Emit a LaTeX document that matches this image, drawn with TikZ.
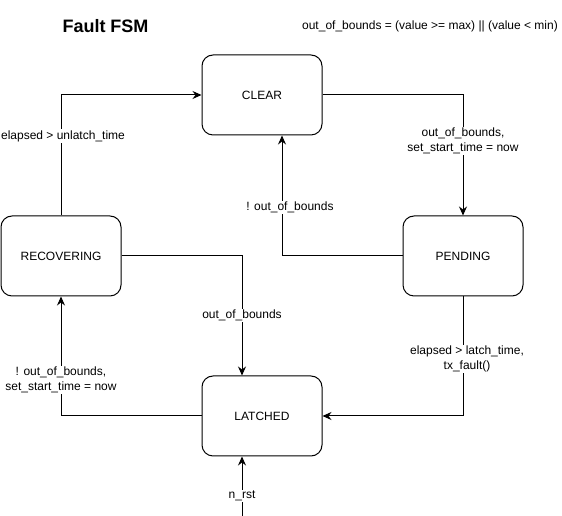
\documentclass[tikz,border=0pt]{standalone}
\usepackage{fontspec}
\setmainfont{Liberation Sans}
\usetikzlibrary{arrows.meta,positioning}

\begin{document}
\begin{tikzpicture}[
  x=1pt,y=1pt,
  font=\fontsize{12}{15}\selectfont,>={Stealth[length=9pt,width=8pt,inset=3pt]},
  state/.style={draw,line width=1pt,rounded corners=11pt,fill=white,align=center,minimum width=120pt,minimum height=80pt},
  ar/.style={->,line width=1pt},
  lbl/.style={fill=white,inner sep=1pt,align=center}
]
\useasboundingbox (0,0) rectangle (562,516);

% ---- title + definition ----
\node[font=\fontsize{18}{22}\selectfont\bfseries] (title) at (105.5,490) {Fault FSM};
\node (def) at (430,490) {out\_of\_bounds = (value >= max) || (value < min)};

% ---- states ----
\node[state] (clear) at (262,421) {CLEAR};
\node[state,below left=80pt and 80pt of clear] (recovering) {RECOVERING};
\node[state,below right=80pt and 80pt of clear] (pending) {PENDING};
\node[state,below=240pt of clear] (latched) {LATCHED};
\coordinate (rst) at ([xshift=-20pt]latched.south |- 0,0);

% wires
\draw[ar] (recovering.north) |- (clear.west) node[lbl,pos=0.33,xshift=2pt]{elapsed > unlatch\_time};
\draw[ar] (clear.east) -| (pending.north) node[lbl,pos=0.69]{out\_of\_bounds,\\ set\_start\_time = now};
\draw[ar] (pending.west) -| ([xshift=20pt]clear.south) node[lbl,pos=0.70,xshift=8pt]{! out\_of\_bounds};
\draw[ar] (recovering.east) -| ([xshift=-20pt]latched.north) node[lbl,pos=0.75]{out\_of\_bounds};
\draw[ar] (pending.south) |- (latched.east) node[lbl,pos=0.26,xshift=4pt]{elapsed > latch\_time,\\ tx\_fault()};
\draw[ar] (latched.west) -| (recovering.south) node[lbl,pos=0.65]{! out\_of\_bounds,\\ set\_start\_time = now};
\draw[ar] (rst) -- ([xshift=-20pt]latched.south) node[lbl,pos=0.34]{n\_rst};
\end{tikzpicture}
\end{document}
